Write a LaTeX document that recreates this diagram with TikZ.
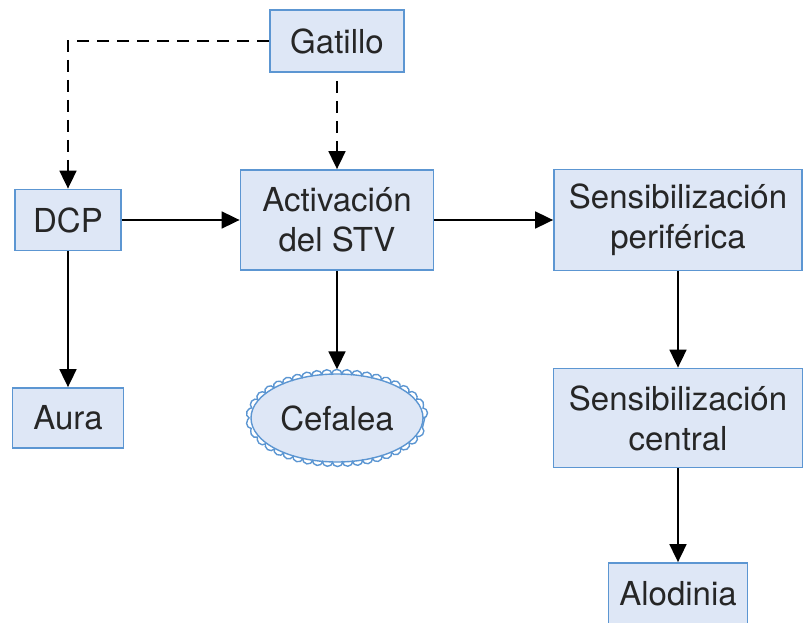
\documentclass[tikz,border=0pt]{standalone}
\usepackage{fontspec}
\setmainfont{TeX Gyre Heros}
\usetikzlibrary{arrows.meta,decorations.pathmorphing,shapes.geometric}
\definecolor{boxfill}{RGB}{222,231,246}
\definecolor{boxline}{RGB}{92,150,210}
\begin{document}
\begin{tikzpicture}[x=1pt,y=-1pt,
    box/.style={draw=boxline, fill=boxfill, line width=1.8pt, inner sep=0pt, align=center,
      font=\fontsize{33}{40}\selectfont, text=black!85},
    cloud/.style={ellipse, draw=boxline, fill=boxfill, line width=1.4pt, inner sep=0pt,
      font=\fontsize{33}{40}\selectfont, text=black!85,
      postaction={draw=boxline, line width=1.4pt, decorate,
        decoration={bumps, segment length=20pt, amplitude=-4.5pt}}},
    flow/.style={line width=1.8pt, -{Triangle[length=18pt,width=17pt]}},
    trig/.style={flow, dash pattern=on 12pt off 8pt}]
    \useasboundingbox (0,0) rectangle (803,623);
    \clip (0,0) rectangle (803,623);

    % top row
    \node[box, minimum width=134pt, minimum height=62pt] (gat) at (337,41) {Gatillo};
    \node[box, minimum width=106pt, minimum height=61pt] (dcp) at (68,220) {DCP};
    \node[box, minimum width=193pt, minimum height=100pt] (act) at (337,220) {Activación\\del STV};
    \node[box, minimum width=248pt, minimum height=101pt] (per) at (678,220) {Sensibilización\\periférica};

    % second row
    \node[box, minimum width=111pt, minimum height=60pt] (aura) at (68,418) {Aura};
    \node[cloud, minimum width=172pt, minimum height=88pt] (cef) at (337,418) {Cefalea};
    \node[box, minimum width=249pt, minimum height=99pt] (cen) at (678,418) {Sensibilización\\central};

    % bottom
    \node[box, minimum width=139pt, minimum height=62pt] (alo) at (678,594) {Alodinia};

    % triggers
    \draw[trig] (gat.west) -| (dcp.north);
    \draw[trig, shorten <=8pt] (gat.south) -- (act.north);

    % main flow
    \draw[flow] (dcp.east) -- (act.west);
    \draw[flow] (act.east) -- (per.west);
    \draw[flow] (dcp.south) -- (aura.north);
    \draw[flow, shorten >=4pt] (act.south) -- (cef.north);
    \draw[flow] (per.south) -- (cen.north);
    \draw[flow] (cen.south) -- (alo.north);
\end{tikzpicture}
\end{document}
